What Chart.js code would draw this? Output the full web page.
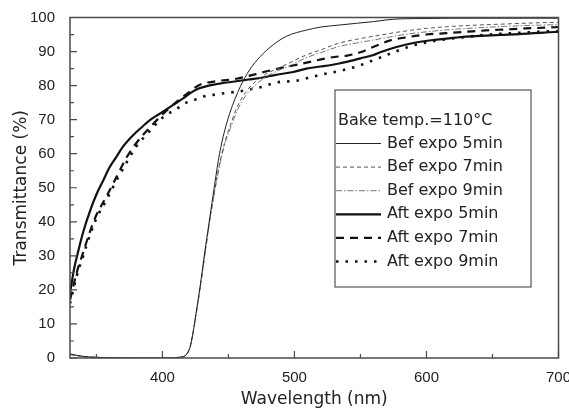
<!DOCTYPE html>
<html><head><meta charset="utf-8">
<script src="https://cdn.jsdelivr.net/npm/chart.js@4.4.1/dist/chart.umd.min.js"></script>
<style>html,body{margin:0;padding:0;background:#fff}</style>
</head><body>
<canvas id="c" width="569" height="416"></canvas>
<script>
// ---- data (wavelength nm, transmittance %) ----
const seriesLabels = ['Bef expo 5min','Bef expo 7min','Bef expo 9min','Aft expo 5min','Aft expo 7min','Aft expo 9min'];
const legendTitle = 'Bake temp.=110\u00B0C';

const bef5Nm = [330,335,340,345,350,360,380,400,410,414,417,419,421,423,424.7,428.5,432.3,436,438.6,442.4,446,451,459,466,474,484,494,509,520,534.5,547,560,570,580,600,620,640,660,680,700];
const bef5T  = [1.2,0.8,0.5,0.3,0.2,0.1,0,0,0.1,0.3,0.6,1.5,3.3,7,11.2,20.9,31.7,41.5,48.4,58.1,65,71.9,79.7,84.6,88.5,92,94.5,96.3,97.2,97.8,98.3,98.8,99.3,99.6,99.7,99.8,99.8,99.8,99.8,99.8];

const bef7Nm = [330,335,340,345,350,360,380,400,410,414,417,419,421,423,424.7,428.5,432.3,436,439,443,447,452,457,463,470,478,490,499,509,520,534,547,560,580,600,620,640,660,680,700];
const bef7T  = [1.0,0.7,0.4,0.3,0.2,0.1,0,0,0.1,0.3,0.6,1.5,3.3,7,11,20.5,31,41,48,56.5,63,69,74,78,81,83.3,85.5,87.2,89,90.5,92.5,93.6,94.5,95.8,96.8,97.4,97.8,98.1,98.4,98.6];

const bef9Nm = bef7Nm;
const bef9T  = [1.1,0.7,0.4,0.3,0.2,0.1,0,0,0.1,0.3,0.6,1.4,3.2,6.8,10.8,20.2,30.6,40.6,47.6,56,62.5,68,73,77,80,82.5,84.8,86.3,88.2,89.7,91.5,92.5,93.4,94.8,95.8,96.5,97,97.4,97.7,97.9];

const aft5Nm = [330,333,336,340,345,350,355,360,365,370,378,385,391,397,403,410,416,422,428,435,445,455,465,475,485,499,509,520,534,545,550,560,565,578,590,605,615,630,645,656,670,681,690,700];
const aft5T  = [19,26,31,37,43,48,52,56,59,62,65.5,68,70,71.5,73,74.8,76.3,78,79.2,80,80.7,81.2,81.8,82.3,83.1,84,85,85.6,86.5,87.5,88,89,89.8,91.4,92.5,93.4,93.8,94.4,94.7,94.9,95.1,95.4,95.6,95.8];

const aft7Nm = [330,335,340,345,350,357,365,373,380,390,400,410,420,428,441,456,470,479,490,499,510,519,530,540,550,560,572,585,600,615,630,645,660,675,690,700];
const aft7T  = [17,25,31,37,42,47,53,59,63,67.5,71.5,75,78,80.2,81.3,82,83.3,84.2,85.2,85.9,86.8,87.6,88.4,88.8,89.8,91.4,93.2,94.2,95,95.4,95.8,96.2,96.5,96.8,97,97.2];

const aft9Nm = [330,335,340,345,350,357,365,373,380,390,396,402,409.5,417,426,433.5,441,449,457,465,474,489,499,510,519,534,547,560,570,580,590,600,615,630,645,660,675,690,700];
const aft9T  = [16,24,30,36,41,46,52,57.5,62,66.5,69,71.2,72.8,74.8,76,77,77.4,77.9,78.2,78.8,79.5,81.1,81.3,82.2,83.1,84.3,85.6,87.5,89,90.5,91.8,92.7,93.6,94.3,94.9,95.3,95.6,95.9,96];

const xTickLabels = [400,500,600,700];
const xMinorTicks = [350,450,550,650];
const yTickLabels = [0,10,20,30,40,50,60,70,80,90,100];
const yMinorTicks = [5,15,25,35,45,55,65,75,85,95];

// ---- build ----
const pts = (xs, ys) => xs.map((x, i) => ({x: x, y: ys[i]}));
const styles = [
  {borderColor:'#222', borderWidth:1, borderDash:[]},
  {borderColor:'#555', borderWidth:1, borderDash:[4,3]},
  {borderColor:'#777', borderWidth:1, borderDash:[6,2,1.5,2]},
  {borderColor:'#111', borderWidth:2.2, borderDash:[]},
  {borderColor:'#111', borderWidth:2.2, borderDash:[8,6]},
  {borderColor:'#111', borderWidth:2.6, borderDash:[2.5,7]}
];
const dataPairs = [[bef5Nm,bef5T],[bef7Nm,bef7T],[bef9Nm,bef9T],[aft5Nm,aft5T],[aft7Nm,aft7T],[aft9Nm,aft9T]];
const datasets = dataPairs.map((p, i) => Object.assign({
  label: seriesLabels[i], data: pts(p[0], p[1]), fill:false, pointRadius:0,
  cubicInterpolationMode:'monotone', borderCapStyle:'butt'
}, styles[i]));

const framePlugin = {
  id:'frame',
  afterDraw(chart) {
    const {ctx, chartArea:a, scales:{x, y}} = chart;
    ctx.save();
    ctx.strokeStyle = '#4a4a4a';
    ctx.lineWidth = 1.5;
    ctx.strokeRect(a.left, a.top, a.right - a.left, a.bottom - a.top);
    ctx.lineWidth = 1.2;
    ctx.beginPath();
    xTickLabels.forEach(v => { const px = x.getPixelForValue(v); ctx.moveTo(px, a.bottom); ctx.lineTo(px, a.bottom - 7); });
    xMinorTicks.forEach(v => { const px = x.getPixelForValue(v); ctx.moveTo(px, a.bottom); ctx.lineTo(px, a.bottom - 4); });
    yTickLabels.forEach(v => { const py = y.getPixelForValue(v); ctx.moveTo(a.left, py); ctx.lineTo(a.left + 7, py); });
    yMinorTicks.forEach(v => { const py = y.getPixelForValue(v); ctx.moveTo(a.left, py); ctx.lineTo(a.left + 4, py); });
    ctx.stroke();

    // legend box
    const bx = 335, by = 90, bw = 196, bh = 197;
    ctx.fillStyle = '#fff';
    ctx.fillRect(bx, by, bw, bh);
    ctx.strokeStyle = '#555';
    ctx.lineWidth = 1.2;
    ctx.strokeRect(bx, by, bw, bh);
    ctx.fillStyle = '#222';
    ctx.font = '16px "DejaVu Sans"';
    ctx.textBaseline = 'middle';
    ctx.textAlign = 'left';
    ctx.fillText(legendTitle, 338, 121);
    chart.data.datasets.forEach((ds, i) => {
      const yy = 143.5 + i * 23.6;
      ctx.save();
      ctx.strokeStyle = ds.borderColor;
      ctx.lineWidth = ds.borderWidth;
      ctx.setLineDash(ds.borderDash);
      ctx.beginPath();
      ctx.moveTo(336, yy); ctx.lineTo(381, yy);
      ctx.stroke();
      ctx.restore();
      ctx.fillStyle = '#222';
      ctx.fillText(ds.label, 387, yy);
    });
    ctx.restore();
  }
};

new Chart(document.getElementById('c'), {
  type:'line',
  data:{datasets: datasets},
  options:{
    responsive:false, animation:false, devicePixelRatio:1,
    layout:{padding:{left:0, right:10.5, top:17.5, bottom:0}},
    plugins:{legend:{display:false}, tooltip:{enabled:false}},
    scales:{
      x:{type:'linear', min:330, max:700,
        afterBuildTicks: s => { s.ticks = xTickLabels.map(v => ({value:v})); },
        afterFit: s => { s.height = 58; s.paddingLeft = 0; s.paddingRight = 0; },
        grid:{display:false}, border:{display:false},
        ticks:{color:'#222', font:{family:'Liberation Sans', size:15}, padding:3, maxRotation:0, autoSkip:false},
        title:{display:true, text:'Wavelength (nm)', color:'#222', font:{family:'DejaVu Sans', size:17}, padding:{top:0, bottom:6}}
      },
      y:{type:'linear', min:0, max:100,
        afterBuildTicks: s => { s.ticks = yTickLabels.map(v => ({value:v})); },
        afterFit: s => { s.width = 70; s.paddingTop = 0; s.paddingBottom = 0; },
        grid:{display:false}, border:{display:false},
        ticks:{color:'#222', font:{family:'Liberation Sans', size:15}, padding:7, autoSkip:false},
        title:{display:true, text:'Transmittance (%)', color:'#222', font:{family:'DejaVu Sans', size:17}, padding:{top:11, bottom:0}}
      }
    }
  },
  plugins:[framePlugin]
});
</script>
</body></html>
